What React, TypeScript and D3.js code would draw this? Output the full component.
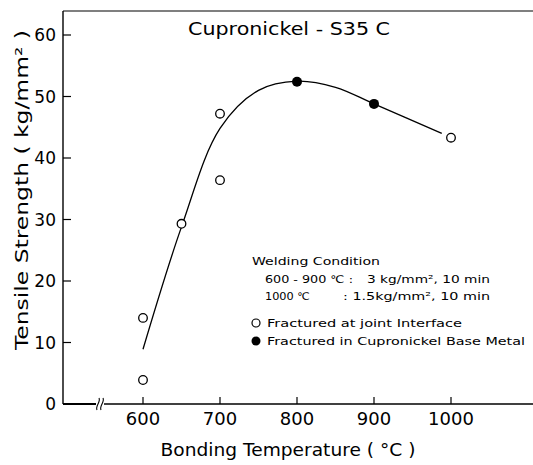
import React from "react";
import * as d3 from "d3";

const xTicks = [600, 700, 800, 900, 1000];
const yTicks = [0, 10, 20, 30, 40, 50, 60];

// Open circles: fractured at joint interface
const openTemps = [600, 600, 650, 700, 700, 1000];
const openVals = [14.0, 3.9, 29.3, 47.2, 36.4, 43.3];

// Filled circles: fractured in cupronickel base metal
const filledTemps = [800, 900];
const filledVals = [52.4, 48.8];

// Fitted curve
const curveTemps = [600, 650, 700, 750, 800, 850, 900, 988];
const curveVals = [8.9, 28.8, 44.8, 51.0, 52.5, 51.5, 48.8, 44.0];

const FONT = "'DejaVu Sans', sans-serif";

export default function App() {
  const W = 533;
  const H = 465;
  const x = d3.scaleLinear().domain([600, 1000]).range([143, 451]);
  const y = d3.scaleLinear().domain([0, 60]).range([404, 35]);
  const axisX = 63;
  const axisY = y(0);

  const line = d3
    .line<[number, number]>()
    .x((d) => x(d[0]))
    .y((d) => y(d[1]))
    .curve(d3.curveCatmullRom.alpha(0.5));
  const curveData: [number, number][] = curveTemps.map((t, i) => [t, curveVals[i]]);

  return (
    <svg width={W} height={H} style={{ position: "absolute", left: 0, top: 0, background: "#fff" }}>
      <rect x={0} y={0} width={W} height={H} fill="#fff" />
      {/* frame */}
      <line x1={axisX} y1={11} x2={W} y2={11} stroke="#000" strokeWidth={1.2} />
      <line x1={axisX} y1={11} x2={axisX} y2={axisY} stroke="#000" strokeWidth={1.4} />
      <line x1={axisX} y1={axisY} x2={96} y2={axisY} stroke="#000" strokeWidth={1.8} />
      <line x1={104} y1={axisY} x2={W} y2={axisY} stroke="#000" strokeWidth={1.4} />
      {/* axis break */}
      <path d={`M97,${axisY + 6} C95,${axisY + 2} 101,${axisY - 2} 99,${axisY - 6}`} fill="none" stroke="#000" strokeWidth={1.1} />
      <path d={`M101,${axisY + 6} C99,${axisY + 2} 105,${axisY - 2} 103,${axisY - 6}`} fill="none" stroke="#000" strokeWidth={1.1} />

      {/* y ticks */}
      {yTicks.map((t) => (
        <g key={"y" + t}>
          {t !== 0 && (
            <line x1={axisX} y1={y(t)} x2={axisX + 8} y2={y(t)} stroke="#000" strokeWidth={1.2} />
          )}
          <text x={56} y={y(t) + 6} textAnchor="end" fontFamily={FONT} fontSize={17} fill="#000">
            {t}
          </text>
        </g>
      ))}

      {/* x ticks */}
      {xTicks.map((t) => (
        <g key={"x" + t}>
          <line x1={x(t)} y1={axisY} x2={x(t)} y2={axisY - 7} stroke="#000" strokeWidth={1.2} />
          <text x={x(t)} y={425} textAnchor="middle" fontFamily={FONT} fontSize={18} fill="#000">
            {t}
          </text>
        </g>
      ))}

      {/* curve */}
      <path d={line(curveData) || ""} fill="none" stroke="#000" strokeWidth={1.3} />

      {/* markers */}
      {openTemps.map((t, i) => (
        <circle key={"o" + i} cx={x(t)} cy={y(openVals[i])} r={4.3} fill="#fff" stroke="#000" strokeWidth={1.3} />
      ))}
      {filledTemps.map((t, i) => (
        <circle key={"f" + i} cx={x(t)} cy={y(filledVals[i])} r={5} fill="#000" />
      ))}

      {/* title */}
      <text x={188} y={35} fontFamily={FONT} fontSize={17} textLength={202} lengthAdjust="spacingAndGlyphs" fill="#000">
        Cupronickel - S35 C
      </text>

      {/* axis titles */}
      <text
        transform="translate(28,190) rotate(-90)"
        textAnchor="middle"
        fontFamily={FONT}
        fontSize={17}
        textLength={320}
        lengthAdjust="spacingAndGlyphs"
        fill="#000"
      >
        Tensile  Strength ( kg/mm² )
      </text>
      <text x={288} y={456} textAnchor="middle" fontFamily={FONT} fontSize={17} textLength={255} lengthAdjust="spacingAndGlyphs" fill="#000">
        Bonding  Temperature ( °C )
      </text>

      {/* annotation */}
      <g fontFamily={FONT} fontSize={10.5} fill="#000">
        <text x={252} y={265} textLength={128} lengthAdjust="spacingAndGlyphs">Welding Condition</text>
        <text x={265} y={283} textLength={88} lengthAdjust="spacingAndGlyphs">600 - 900 ℃ :</text>
        <text x={367} y={283} textLength={123} lengthAdjust="spacingAndGlyphs">3 kg/mm², 10 min</text>
        <text x={265} y={300} textLength={45} lengthAdjust="spacingAndGlyphs">1000 ℃</text>
        <text x={343} y={300} textLength={147} lengthAdjust="spacingAndGlyphs">: 1.5kg/mm², 10 min</text>
        <circle cx={256} cy={323} r={4} fill="#fff" stroke="#000" strokeWidth={1.2} />
        <text x={267} y={327} textLength={195} lengthAdjust="spacingAndGlyphs">Fractured at joint Interface</text>
        <circle cx={256} cy={341} r={4.5} fill="#000" />
        <text x={267} y={345} textLength={258} lengthAdjust="spacingAndGlyphs">Fractured in Cupronickel Base Metal</text>
      </g>
    </svg>
  );
}
